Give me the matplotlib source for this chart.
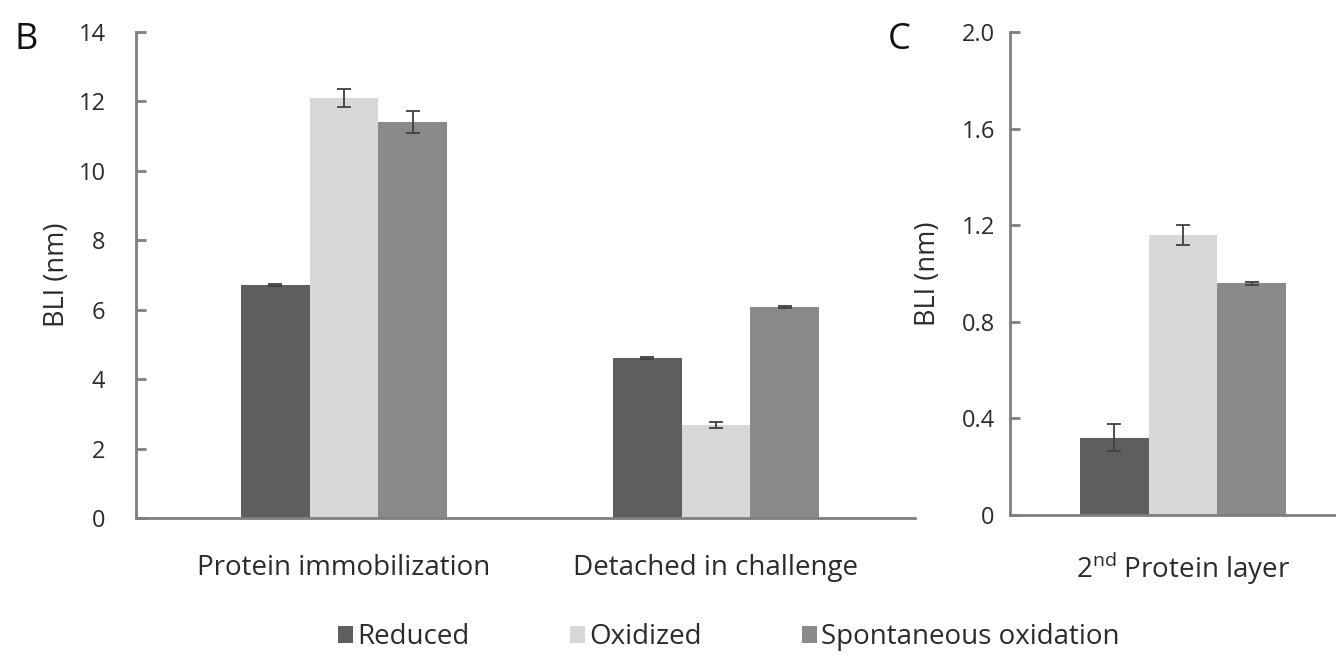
import matplotlib
matplotlib.use("Agg")
import matplotlib.pyplot as plt
import numpy as np

plt.rcParams['font.family'] = ['Open Sans', 'DejaVu Sans']
plt.rcParams['mathtext.default'] = 'regular'

# ---- data ----
series = ["Reduced", "Oxidized", "Spontaneous oxidation"]
colors = ["#5e5e5e", "#d8d8d8", "#8a8a8a"]

categories_B = ["Protein immobilization", "Detached in challenge"]
reduced_B = [6.71, 4.61]
oxidized_B = [12.10, 2.68]
spont_B = [11.41, 6.08]
reduced_B_err = [0.02, 0.02]
oxidized_B_err = [0.26, 0.08]
spont_B_err = [0.31, 0.04]

categories_C = ["2$^{nd}$ Protein layer"]
reduced_C = [0.32]
oxidized_C = [1.16]
spont_C = [0.96]
reduced_C_err = [0.055]
oxidized_C_err = [0.04]
spont_C_err = [0.006]

yticks_B = [0, 2, 4, 6, 8, 10, 12, 14]
yticks_C = [0, 0.4, 0.8, 1.2, 1.6, 2.0]
yticklabels_C = ["0", "0.4", "0.8", "1.2", "1.6", "2.0"]

W, H = 1336, 657
fig = plt.figure(figsize=(W / 100, H / 100), dpi=100)

axis_color = "#7f7f7f"
text_color = "#2b2b2b"
err_color = "#404040"
width = 0.185


def px_axes(l, r, t, b):
    return fig.add_axes([l / W, (H - b) / H, (r - l) / W, (b - t) / H])


def style(ax, ypad):
    for s in ["top", "right"]:
        ax.spines[s].set_visible(False)
    for s in ["left", "bottom"]:
        ax.spines[s].set_color(axis_color)
        ax.spines[s].set_linewidth(2)
    ax.tick_params(axis="y", direction="in", length=7, width=2, color=axis_color,
                   labelsize=17, labelcolor=text_color, pad=ypad)
    ax.tick_params(axis="x", length=0, labelsize=20, labelcolor=text_color, pad=26)
    ax.set_facecolor("none")


def draw(ax, cats, vals, errs):
    x = np.arange(len(cats))
    handles = []
    for i, (v, e, c, name) in enumerate(zip(vals, errs, colors, series)):
        h = ax.bar(x + (i - 1) * width, v, width, color=c, label=name,
                   yerr=e, capsize=5,
                   error_kw=dict(ecolor=err_color, elinewidth=1.3, capthick=1.3),
                   zorder=2)
        handles.append(h)
    ax.set_xticks(x)
    ax.set_xticklabels(cats)
    return handles


axB = px_axes(136, 915, 32, 518)
style(axB, 22)
handles = draw(axB, categories_B, [reduced_B, oxidized_B, spont_B],
               [reduced_B_err, oxidized_B_err, spont_B_err])
axB.set_xlim(-0.559, 1.535)
axB.set_ylim(0, 14)
axB.set_yticks(yticks_B)
axB.set_ylabel("BLI (nm)", fontsize=19.5, color=text_color, labelpad=5)

axC = px_axes(1010, 1336, 32, 515)
style(axC, 11)
draw(axC, categories_C, [reduced_C, oxidized_C, spont_C],
     [reduced_C_err, oxidized_C_err, spont_C_err])
axC.set_xlim(-0.465, 0.411)
axC.set_ylim(0, 2.0)
axC.set_yticks(yticks_C)
axC.set_yticklabels(yticklabels_C)
axC.set_ylabel("BLI (nm)", fontsize=19.5, color=text_color, labelpad=14)

fig.text(15 / W, 1 - 40 / H, "B", fontsize=26, color="#111111", va="center", ha="left")
fig.text(888 / W, 1 - 40 / H, "C", fontsize=26, color="#111111", va="center", ha="left")

fig.legend(handles=handles, labels=series, loc="center", bbox_to_anchor=(729 / W, 1 - 637 / H),
           ncol=3, frameon=False, fontsize=20, handlelength=0.55, handleheight=0.55,
           handletextpad=0.15, columnspacing=3.6, labelcolor=text_color)

fig.savefig("out.png", dpi=100)
